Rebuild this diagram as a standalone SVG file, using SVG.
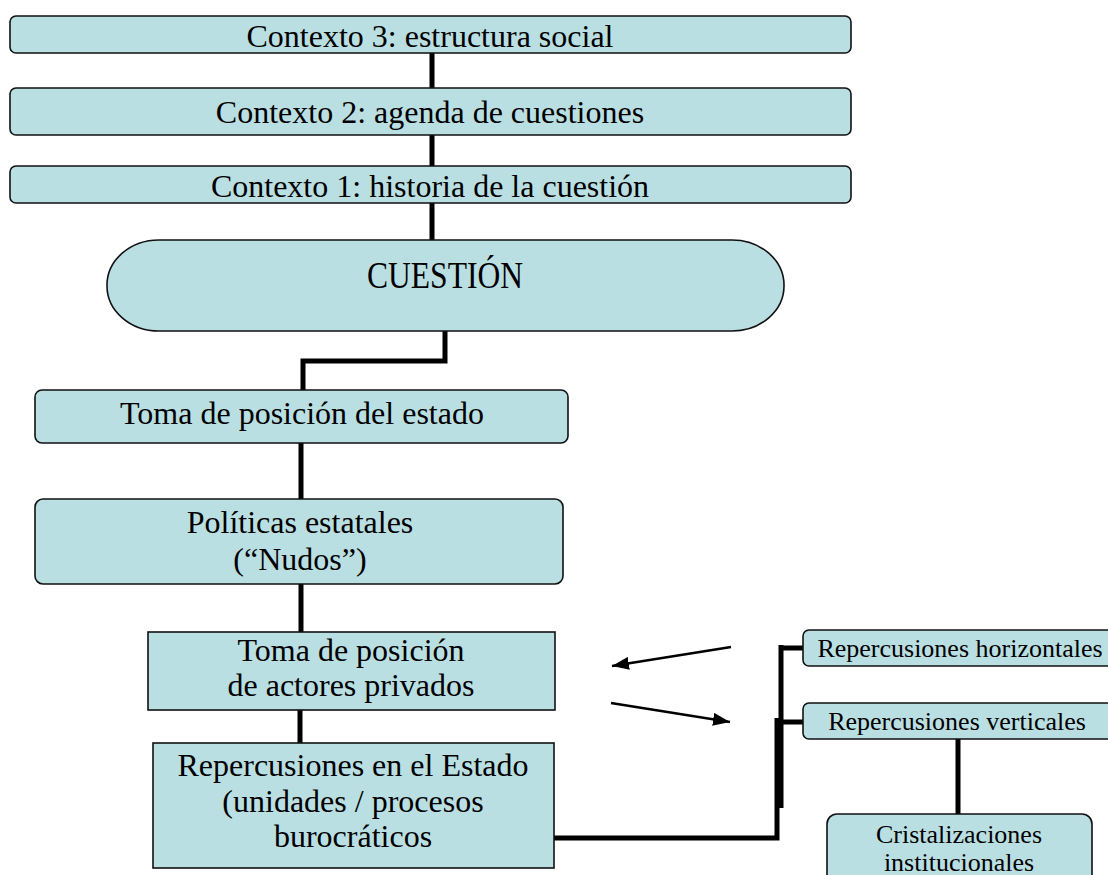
<svg xmlns="http://www.w3.org/2000/svg" width="1108" height="875" viewBox="0 0 1108 875">
<style>
.box{fill:#badfe3;stroke:#111;stroke-width:1.6}
.t{font-family:"Liberation Serif","Times New Roman",serif;font-size:32px;fill:#000;text-anchor:middle}
.s{font-family:"Liberation Serif","Times New Roman",serif;font-size:26px;fill:#000;text-anchor:middle}
.c{fill:none;stroke:#000;stroke-width:5}
.a{fill:none;stroke:#000;stroke-width:2.5}
</style>
<defs>
<marker id="ah" viewBox="0 0 17 13" refX="17" refY="6.5" markerWidth="17" markerHeight="13" markerUnits="userSpaceOnUse" orient="auto">
<path d="M0,0 L17,6.5 L0,13 z" fill="#000"/>
</marker>
</defs>
<g id="connectors">
<path class="c" d="M432,53 V88"/>
<path class="c" d="M432,135 V166"/>
<path class="c" d="M432,203 V240"/>
<path class="c" d="M445,331 V361 H303 V390"/>
<path class="c" d="M301,443 V499"/>
<path class="c" d="M301,584 V632"/>
<path class="c" d="M300,710 V743"/>
<path class="c" d="M554,838 H777 V718"/>
<path class="c" d="M781,645 V808"/>
<path class="c" d="M779,648 H804"/>
<path class="c" d="M777,722 H804"/>
<path class="c" d="M958,739 V815"/>
<path class="a" d="M731,647 L612,666" marker-end="url(#ah)"/>
<path class="a" d="M611,703 L730,722" marker-end="url(#ah)"/>
</g>
<g id="contexto3">
<rect class="box" x="10" y="16" width="841" height="37" rx="6"/>
<text class="t" x="430" y="47">Contexto 3: estructura social</text>
</g>
<g id="contexto2">
<rect class="box" x="10" y="88" width="841" height="47" rx="6"/>
<text class="t" x="430" y="123">Contexto 2: agenda de cuestiones</text>
</g>
<g id="contexto1">
<rect class="box" x="10" y="166" width="841" height="37" rx="6"/>
<text class="t" x="430" y="197">Contexto 1: historia de la cuestión</text>
</g>
<g id="cuestion">
<rect class="box" x="107" y="240" width="677" height="91" rx="52" ry="45"/>
<text class="t" x="445" y="288" font-size="38" textLength="156" lengthAdjust="spacingAndGlyphs" style="font-size:38px">CUESTIÓN</text>
</g>
<g id="toma-estado">
<rect class="box" x="35" y="390" width="533" height="53" rx="7"/>
<text class="t" x="302" y="424">Toma de posición del estado</text>
</g>
<g id="politicas">
<rect class="box" x="35" y="499" width="528" height="85" rx="8"/>
<text class="t" x="300" y="533">Políticas estatales</text>
<text class="t" x="300" y="570">(“Nudos”)</text>
</g>
<g id="toma-privados">
<rect class="box" x="148" y="632" width="407" height="78"/>
<text class="t" x="351" y="661">Toma de posición</text>
<text class="t" x="351" y="696">de actores privados</text>
</g>
<g id="repercusiones-estado">
<rect class="box" x="153" y="743" width="401" height="125"/>
<text class="t" x="353" y="776">Repercusiones en el Estado</text>
<text class="t" x="353" y="812">(unidades / procesos</text>
<text class="t" x="353" y="847">burocráticos</text>
</g>
<g id="rep-horizontales">
<rect class="box" x="803" y="630" width="312" height="36" rx="6"/>
<text class="s" x="960" y="657">Repercusiones horizontales</text>
</g>
<g id="rep-verticales">
<rect class="box" x="803" y="703" width="312" height="36" rx="6"/>
<text class="s" x="957" y="730">Repercusiones verticales</text>
</g>
<g id="cristalizaciones">
<rect class="box" x="827" y="814" width="265" height="80" rx="10"/>
<text class="s" x="959" y="843">Cristalizaciones</text>
<text class="s" x="959" y="871">institucionales</text>
</g>
</svg>
